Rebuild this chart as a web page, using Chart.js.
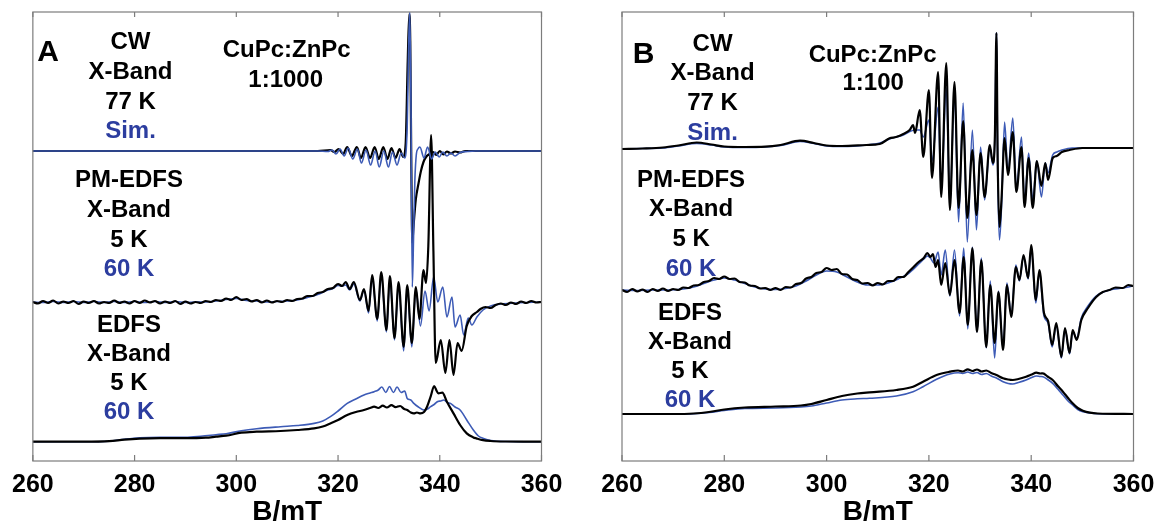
<!DOCTYPE html>
<html>
<head>
<meta charset="utf-8">
<script src="https://cdn.jsdelivr.net/npm/chart.js@4.4.1/dist/chart.umd.min.js"></script>
<style>
  body { margin: 0; background: #fff; width: 1156px; height: 529px; overflow: hidden; position: relative; }
  .panel { position: absolute; top: 0; }
  #panelA { left: 0; }
  #panelB { left: 580px; }
</style>
</head>
<body>
<div class="panel" id="panelA"><canvas id="chartA" width="580" height="529"></canvas></div>
<div class="panel" id="panelB"><canvas id="chartB" width="620" height="529"></canvas></div>
<script>
// Field axis (mT) ticks
const fieldTicks = [260, 280, 300, 320, 340, 360];

// ---- Panel A: CuPc:ZnPc 1:1000 (traces stacked, arbitrary units) ----
// CW X-band 77 K, experiment
const aCwExpField = [260, 290, 316, 318.5, 319.3, 320.1, 321.0, 321.8, 322.7, 323.7, 324.5, 325.4, 326.3, 327.2, 328.0, 328.9, 329.7, 330.5, 331.3, 332.1, 332.8, 333.3, 333.7, 334.0, 334.2, 334.4, 334.6, 334.8, 335.3, 335.8, 336.3, 336.8, 337.3, 338.0, 338.7, 339.3, 340.0, 340.7, 341.4, 342.2, 343.0, 344.0, 345.0, 347.0, 360];
const aCwExp = [310, 310, 310, 311, 309, 312, 307, 314, 305, 314, 303, 314, 303, 314, 302, 314, 302, 313, 303, 312, 304, 318, 400, 447, 420, 300, 218, 232, 262, 277, 290, 299, 304, 307, 309, 306, 310, 306.5, 309.5, 307.5, 309.5, 308.5, 310, 310, 310];
// CW simulation
const aCwSimField = [260, 290, 316, 318, 318.8, 319.6, 320.4, 321.2, 322.0, 322.9, 323.8, 324.6, 325.5, 326.4, 327.3, 328.1, 329.0, 329.9, 330.7, 331.6, 332.4, 333.1, 333.6, 333.9, 334.1, 334.3, 334.6, 334.85, 335.1, 335.4, 335.7, 336.1, 336.9, 337.6, 338.4, 339.1, 339.9, 340.6, 341.4, 342.2, 343.0, 344.0, 345.5, 347, 360];
const aCwSim = [310, 310, 310, 309.5, 311, 307, 312, 305, 313, 302, 312, 298, 311, 296, 310, 294, 310, 294, 309, 296, 308, 303, 335, 420, 449, 380, 174, 225, 280, 307, 312, 314, 303, 314, 302, 309, 304, 309, 305, 308, 305, 308.5, 309.5, 310, 310];

// PM-EDFS 5 K (black) and 60 K (blue)
const aPmExpField = [260, 261, 262, 263, 264, 265, 266, 267, 268, 269, 270, 271, 272, 273, 274, 275, 276, 277, 278, 279, 280, 281, 282, 283, 284, 285, 286, 287, 288, 289, 290, 291, 292, 293, 294, 295, 296, 297, 298, 299, 300, 301, 302, 303, 304, 305, 306, 307, 308, 309, 310, 311, 312, 313, 314, 315, 316, 317, 318, 319, 320, 320.8, 321.5, 322.3, 323.1, 324.3, 325.1, 326.0, 326.7, 327.7, 328.5, 329.5, 330.2, 331.1, 331.9, 332.9, 333.6, 334.5, 335.3, 336.0, 336.8, 337.3, 337.75, 338.3, 338.75, 339.2, 340.2, 341.1, 341.9, 342.7, 343.5, 344.3, 345.3, 346.3, 347.3, 348, 349, 350, 351, 352, 353, 354, 355, 356, 357, 358, 359, 360];
const aPmExp = [159, 157.5, 160, 158, 160.5, 157.5, 159.5, 158, 160, 157, 159.5, 158, 160, 157.5, 159, 158, 160.5, 158, 159.5, 157.5, 160, 158, 160.5, 158.5, 160, 157.5, 159.5, 158, 160, 157, 159.5, 157.5, 159, 158, 160, 159, 161, 160, 162.5, 161, 164, 161, 162, 159.5, 161, 158.5, 160.5, 158.5, 160, 159, 161, 160, 162, 162.5, 165, 165, 168, 169, 172, 173, 177, 175, 179, 172, 179, 161, 172, 150, 186, 142, 189, 131, 185, 123, 179, 114, 176, 118, 174, 142, 191, 178, 215, 326, 210, 98, 121, 88, 121, 86, 118, 110, 135, 145, 149, 152, 154, 153, 156, 157.5, 156, 158.5, 157, 159.5, 158, 160, 158.5, 159];
const aPmSimField = [260, 262, 264, 266, 268, 270, 272, 274, 276, 278, 280, 282, 284, 286, 288, 290, 292, 294, 296, 298, 300, 302, 304, 306, 308, 310, 312, 314, 316, 318, 319, 320, 320.8, 321.5, 322.3, 323.1, 324.3, 325.1, 326.0, 326.7, 327.7, 328.5, 329.5, 330.2, 331.1, 331.9, 332.9, 333.6, 334.5, 335.3, 336.2, 337.1, 337.9, 338.8, 339.6, 340.6, 341.4, 342.4, 343.0, 344.0, 344.7, 345.6, 346.3, 347.3, 348.5, 350, 352, 355, 360];
const aPmSim = [159, 158.5, 159.5, 158.5, 159.5, 158.5, 159.5, 158.5, 159.5, 158.5, 159.5, 158.5, 159.5, 158.5, 159.5, 158.5, 159, 159, 160, 161.5, 162.5, 160.5, 160, 159, 159.5, 160, 161, 163.5, 166.5, 171, 172.5, 175.5, 175, 176, 171, 177, 160, 171, 148, 184, 140, 186, 129, 182, 121, 176, 110, 173, 114, 172, 135, 170, 150, 184, 159, 174, 144, 164, 134, 146, 126, 143, 136, 144, 151, 155, 157, 158, 159];

// EDFS 5 K (black) and 60 K (blue)
const aEdExpField = [260, 270, 275, 278, 281, 285, 290, 294, 296, 298, 301, 304, 308.7, 312, 315.3, 317, 318.5, 320, 321.8, 323.5, 325.1, 326.3, 327.1, 327.9, 328.8, 329.6, 330.5, 331.3, 332.2, 333.0, 333.6, 334.3, 334.9, 335.5, 336.2, 336.9, 337.5, 338.2, 338.9, 339.4, 339.7, 340.5, 341.4, 342.7, 344.0, 345.3, 346.6, 347.2, 348.5, 350, 353, 360];
const aEdExp = [19.3, 19.3, 19.8, 21.3, 22.3, 22.8, 22.8, 23.3, 24.3, 25.3, 28.3, 29.3, 30, 31, 32.6, 34.5, 37.6, 41, 46, 49, 51, 53, 54.3, 53, 55.3, 53.5, 55.8, 53.8, 55, 52, 51, 48.5, 47.6, 48.5, 47.6, 49, 54.3, 64.3, 75, 70, 67.6, 68.3, 59.3, 47.6, 36, 27.6, 23.6, 22.6, 20.8, 20, 19.5, 19.3];
const aEdSimField = [260, 270, 275, 278, 281, 285, 290, 293, 296, 298, 301, 304, 308.7, 312, 315.3, 317, 318.5, 320, 321.8, 323.5, 325.1, 326.3, 327.1, 327.9, 328.6, 329.4, 330.1, 330.9, 331.6, 332.4, 333.1, 333.6, 334.3, 334.9, 335.8, 336.9, 337.6, 338.2, 339.0, 339.6, 340.2, 340.8, 341.5, 342.1, 343.0, 344.0, 345.3, 346.6, 347.6, 348.6, 350, 353, 360];
const aEdSim = [19.3, 19.3, 19.8, 21.8, 23.3, 23.8, 23.8, 24.8, 26.3, 27.3, 30.3, 32.3, 34.3, 35.5, 37.6, 40, 44.3, 50, 57.6, 62, 66, 68, 69.3, 71, 74, 68.5, 74.5, 68.5, 74, 68.5, 70, 62.6, 61, 57.6, 54, 51, 52, 54.3, 57, 59.5, 60, 61, 58.5, 57.6, 54, 51, 41, 31, 25, 22.6, 20.5, 19.5, 19.3];

// ---- Panel B: CuPc:ZnPc 1:100 ----
const bCwExpField = [260, 264, 268, 271, 274.6, 277.5, 280, 284, 288, 291, 294.8, 297.5, 300, 303, 307.8, 310.4, 312.3, 313.6, 315, 316.25, 316.9, 317.3, 318.2, 318.9, 320.0, 320.6, 321.8, 322.4, 323.4, 324.1, 325.0, 325.8, 326.7, 327.5, 328.5, 329.3, 330.1, 330.9, 331.9, 332.5, 332.9, 333.2, 333.45, 333.8, 334.2, 334.8, 335.45, 336.4, 337.1, 338.1, 338.7, 339.5, 340.3, 341.1, 342.0, 342.75, 343.3, 344.2, 345, 346, 347.5, 350, 355, 360];
const bCwExp = [312, 312.5, 313.5, 315.5, 318.5, 316.5, 314.5, 314, 314.3, 316, 320.3, 318, 315.5, 315, 316, 317, 322.7, 324, 327, 331, 336, 328, 351, 304, 371, 283, 389, 264, 398, 251, 379, 253, 340, 243, 311, 246, 308, 264, 316, 298, 325, 428, 300, 234, 262, 323, 286, 329, 269, 314, 254, 303, 253, 300, 275, 298, 281, 303, 305, 309, 311, 313, 313, 313];
const bCwSimField = [260, 264, 268, 271, 274.6, 277.5, 280, 284, 288, 291, 294.8, 297.5, 300, 303, 307.8, 310.4, 312.3, 313.6, 315, 316.25, 317.3, 318.2, 318.9, 320.0, 320.6, 321.8, 322.4, 323.4, 324.1, 325.0, 325.8, 326.7, 327.5, 328.5, 329.3, 330.1, 330.9, 331.9, 332.5, 332.9, 333.2, 333.45, 333.8, 334.2, 334.8, 335.45, 336.4, 337.1, 338.1, 338.7, 339.5, 340.3, 341.1, 342.0, 342.75, 343.3, 344.2, 345, 346, 348, 355, 360];
const bCwSim = [312, 312.5, 313, 315, 317.5, 316, 314, 313.5, 314, 315.5, 319.5, 317.5, 315, 314.5, 316, 318, 322, 324, 326, 329.5, 331, 331, 324, 341, 300, 354, 270, 373, 255, 369, 239, 358, 219, 331, 231, 314, 261, 314, 296, 325, 428, 290, 221, 255, 339, 288, 343, 272, 324, 258, 308, 261, 300, 264, 298, 288, 306, 309, 311, 313, 313, 313];

const bPmExpField = [260, 261, 262, 263, 264, 265, 266, 267, 268, 269, 270, 271, 272, 273, 274, 275, 276, 277, 278, 279, 280, 281, 282, 283, 284, 285, 286, 287, 288, 289, 290, 291, 292, 293, 294, 295, 296, 297, 298, 299, 300, 301, 302, 303, 304, 305, 306, 307, 308, 309, 310, 311, 312, 313, 314, 315, 316, 317, 318, 319, 319.7, 320.3, 320.8, 321.3, 321.8, 322.4, 323.2, 324.1, 325.0, 326.0, 326.8, 327.6, 328.5, 329.4, 330.25, 331.2, 332.0, 332.85, 333.6, 334.5, 335.25, 336.1, 337.0, 337.7, 338.5, 339.4, 340.0, 340.9, 341.6, 342.5, 343.3, 344.1, 344.9, 345.9, 346.6, 347.5, 348.1, 348.9, 349.8, 351.1, 352.7, 354, 355.3, 356.5, 357.9, 359, 359.9];
const bPmExp = [171, 169, 172, 169.5, 171.5, 169, 172, 170, 172.5, 170, 172, 171, 173.5, 173, 175.5, 176, 179, 180, 183, 182, 184.5, 182, 182.5, 179, 178.5, 175.5, 175, 172.5, 173, 171, 173, 171, 174, 173.5, 177, 178, 182.5, 184, 188, 189, 193, 191, 192, 187, 186.5, 182, 181, 177.5, 178, 175.5, 178, 176.5, 180, 180, 184, 184, 189, 194, 199, 203, 208, 204, 207, 194, 201, 176, 198, 166, 201, 148, 204, 136, 213, 129, 201, 114, 176, 118, 169, 111, 176, 144, 194, 181, 206, 183, 216, 161, 191, 148, 140, 116, 138, 104, 133, 108, 131, 121, 141, 153, 164, 169, 171, 173.5, 173, 176, 175];
const bPmSimField = [260, 263, 266, 269, 272, 274, 276, 278, 280, 282, 284, 286, 288, 290, 292, 294, 296, 298, 300, 302, 304, 306, 308, 310, 312, 314, 316, 318, 319, 319.7, 320.3, 321.0, 321.8, 322.4, 323.2, 324.1, 325.0, 326.0, 326.8, 327.6, 328.5, 329.4, 330.25, 331.2, 332.0, 332.85, 333.6, 334.5, 335.25, 336.1, 337.0, 337.7, 338.5, 339.4, 340.0, 340.9, 341.6, 342.5, 343.3, 344.1, 344.9, 345.9, 346.6, 347.5, 348.1, 348.9, 349.8, 351.1, 352.7, 355.3, 357.9, 359.9];
const bPmSim = [171, 170.5, 171, 171, 172, 174, 177.5, 181, 183, 181, 177.5, 174, 172, 171.5, 172.5, 175, 180, 186, 190, 189, 184, 179, 176, 176, 178, 182, 187.5, 197, 202, 205, 203, 198, 209, 186, 211, 165, 211, 145, 213, 132, 214, 129, 203, 113, 180, 103, 170, 113, 178, 146, 196, 180, 205, 182, 213, 158, 189, 145, 138, 114, 136, 103, 132, 107, 129, 123, 143, 155, 165, 171, 173, 175];

const bEdExpField = [260, 270, 274, 277, 280, 284, 290, 295, 297, 300, 303, 306, 308.4, 313.65, 316.9, 318.85, 321.5, 324.1, 325.7, 326.6, 327.6, 328.5, 329.4, 330.3, 331.2, 332.2, 333.2, 334.5, 335.5, 336.4, 337.5, 339.0, 340.1, 341.0, 341.8, 342.3, 343.2, 344.2, 345.2, 346.2, 347.2, 348.1, 349.1, 350.1, 351.5, 353, 360];
const bEdExp = [47, 47, 47.5, 49, 51.5, 53.5, 54.5, 55.5, 57, 61, 65, 67.5, 68.7, 71, 74.3, 79.3, 86, 89.3, 90.5, 89.5, 91.7, 90, 91.5, 89.5, 90.5, 88, 86, 82.7, 81.5, 81, 82, 84.3, 86.5, 88.3, 87.5, 87.7, 84.5, 81, 75, 69.3, 63, 57.7, 53, 50.3, 48.3, 47.5, 47];
const bEdSim = [47, 47, 47.3, 48.5, 50.5, 52.5, 53, 54, 55, 58, 61, 62.2, 62.7, 65, 69.3, 74.3, 81.7, 87, 88.3, 87.5, 89, 87.5, 88.5, 86.5, 87.5, 85, 83, 79.3, 77.5, 77, 78.5, 81, 83.5, 85, 84.5, 84.3, 81.5, 77.7, 72, 66, 60, 56, 51.5, 49.3, 48, 47.3, 47];

const black = "#000000";
const blue = "#3d5bb6";
const textBlue = "#2c3d9f";
const fontFamily = '"Liberation Sans", Arial, Helvetica, sans-serif';

function toPoints(fields, values) {
  return fields.map((b, i) => ({ x: b, y: values[i] }));
}

function trace(fields, values, color) {
  return {
    data: toPoints(fields, values),
    borderColor: color,
    borderWidth: color === black ? 2.2 : 1.6,
    fill: false,
  };
}

// annotation texts, placed in data coordinates
const labelsA = [
  { text: "A", x: 263.0, y: 400, size: 30 },
  { text: "CW", x: 279.2, y: 412 },
  { text: "X-Band", x: 279.2, y: 382 },
  { text: "77 K", x: 279.2, y: 352 },
  { text: "Sim.", x: 279.2, y: 323, color: textBlue },
  { text: "CuPc:ZnPc", x: 309.9, y: 404 },
  { text: "1:1000", x: 309.7, y: 374 },
  { text: "PM-EDFS", x: 278.9, y: 274 },
  { text: "X-Band", x: 278.9, y: 244 },
  { text: "5 K", x: 278.9, y: 214 },
  { text: "60 K", x: 278.9, y: 185, color: textBlue },
  { text: "EDFS", x: 278.9, y: 129 },
  { text: "X-Band", x: 278.9, y: 100 },
  { text: "5 K", x: 278.9, y: 71 },
  { text: "60 K", x: 278.9, y: 42, color: textBlue },
];
const labelsB = [
  { text: "B", x: 264.2, y: 398, size: 30 },
  { text: "CW", x: 277.7, y: 410 },
  { text: "X-Band", x: 277.7, y: 381 },
  { text: "77 K", x: 277.7, y: 351 },
  { text: "Sim.", x: 277.7, y: 321, color: textBlue },
  { text: "CuPc:ZnPc", x: 309.0, y: 399 },
  { text: "1:100", x: 309.1, y: 371 },
  { text: "PM-EDFS", x: 273.5, y: 274 },
  { text: "X-Band", x: 273.5, y: 245 },
  { text: "5 K", x: 273.5, y: 215 },
  { text: "60 K", x: 273.5, y: 185, color: textBlue },
  { text: "EDFS", x: 273.3, y: 141 },
  { text: "X-Band", x: 273.3, y: 112 },
  { text: "5 K", x: 273.3, y: 83 },
  { text: "60 K", x: 273.3, y: 54, color: textBlue },
];

// box, inward ticks and the text labels
const framePlugin = {
  id: "frame",
  afterDraw(chart, args, opts) {
    const { ctx, chartArea: a, scales } = chart;
    ctx.save();
    ctx.strokeStyle = "#7c7c7c";
    ctx.lineWidth = 1.2;
    ctx.strokeRect(a.left, a.top, a.right - a.left, a.bottom - a.top);
    scales.x.ticks.forEach((t) => {
      const px = scales.x.getPixelForValue(t.value);
      ctx.beginPath();
      ctx.moveTo(px, a.top);
      ctx.lineTo(px, a.top + 5);
      ctx.moveTo(px, a.bottom);
      ctx.lineTo(px, a.bottom - 6);
      ctx.stroke();
    });
    ctx.textAlign = "center";
    ctx.textBaseline = "alphabetic";
    (opts.labels || []).forEach((l) => {
      ctx.font = "bold " + (l.size || 24) + "px " + fontFamily;
      ctx.fillStyle = l.color || black;
      ctx.fillText(l.text, scales.x.getPixelForValue(l.x), scales.y.getPixelForValue(l.y));
    });
    ctx.restore();
  },
};

function makeChart(id, datasets, labels, pad) {
  return new Chart(document.getElementById(id), {
    type: "line",
    data: { datasets: datasets },
    options: {
      responsive: false,
      animation: false,
      devicePixelRatio: 1,
      layout: { padding: pad },
      elements: {
        point: { radius: 0 },
        line: { cubicInterpolationMode: "monotone", borderJoinStyle: "round", borderCapStyle: "round" },
      },
      plugins: {
        legend: { display: false },
        tooltip: { enabled: false },
        frame: { labels: labels },
      },
      scales: {
        x: {
          type: "linear",
          min: 260,
          max: 360,
          afterBuildTicks: (scale) => { scale.ticks = fieldTicks.map((v) => ({ value: v })); },
          afterFit: (scale) => { scale.height = 68; },
          grid: { display: false, drawTicks: false },
          border: { display: false },
          ticks: { color: black, padding: 12, font: { family: fontFamily, size: 25, weight: "bold", lineHeight: 1 } },
          title: {
            display: true,
            text: "B/mT",
            color: black,
            font: { family: fontFamily, size: 28, weight: "bold", lineHeight: 1 },
            padding: { top: 2, bottom: 3 },
          },
        },
        y: { display: false, min: 0, max: 449 },
      },
    },
    plugins: [framePlugin],
  });
}

makeChart("chartA", [
  trace(aCwSimField, aCwSim, blue),
  trace(aCwExpField, aCwExp, black),
  trace(aPmExpField, aPmExp, black),
  trace(aPmSimField, aPmSim, blue),
  trace(aEdExpField, aEdExp, black),
  trace(aEdSimField, aEdSim, blue),
], labelsA, { left: 31.5, right: 38.5, top: 12, bottom: 0 });

makeChart("chartB", [
  trace(bCwExpField, bCwExp, black),
  trace(bCwSimField, bCwSim, blue),
  trace(bPmExpField, bPmExp, black),
  trace(bPmSimField, bPmSim, blue),
  trace(bEdExpField, bEdExp, black),
  trace(bEdExpField, bEdSim, blue),
], labelsB, { left: 42, right: 66.5, top: 12, bottom: 0 });
</script>
</body>
</html>
